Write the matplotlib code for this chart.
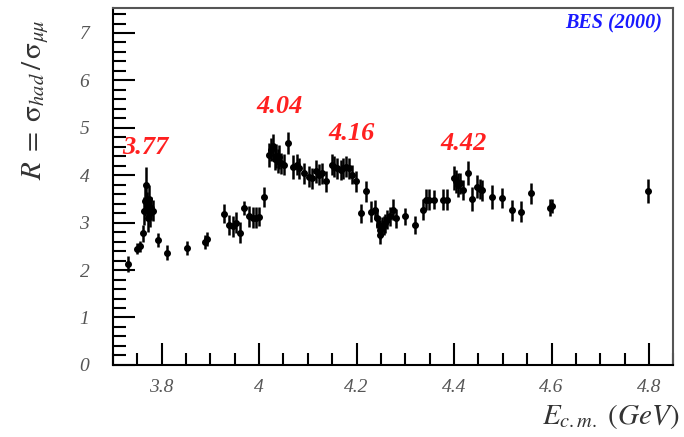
import matplotlib
matplotlib.use("Agg")
import matplotlib.pyplot as plt
from matplotlib.ticker import MultipleLocator

# ===========================
# Datos: R = sigma_had / sigma_mumu (BES 2000)
# ===========================
energia = [3.732, 3.750, 3.755, 3.761, 3.763, 3.765, 3.768, 3.770, 3.772, 3.774,
           3.776, 3.778, 3.782, 3.792, 3.811, 3.852, 3.890, 3.894, 3.929, 3.939,
           3.946, 3.952, 3.961, 3.970, 3.979, 3.987, 3.994, 3.999, 4.011, 4.020,
           4.025, 4.029, 4.032, 4.035, 4.038, 4.041, 4.045, 4.052, 4.060, 4.069,
           4.077, 4.082, 4.092, 4.103, 4.109, 4.116, 4.123, 4.130, 4.137, 4.149,
           4.154, 4.160, 4.167, 4.172, 4.178, 4.184, 4.191, 4.199, 4.208, 4.220,
           4.229, 4.237, 4.242, 4.246, 4.248, 4.249, 4.252, 4.256, 4.259, 4.262,
           4.269, 4.274, 4.280, 4.299, 4.319, 4.337, 4.342, 4.349, 4.358, 4.378,
           4.385, 4.399, 4.403, 4.407, 4.412, 4.419, 4.429, 4.436, 4.448, 4.453,
           4.458, 4.477, 4.499, 4.518, 4.538, 4.558, 4.596, 4.600, 4.797]
r_valor = [2.12, 2.45, 2.50, 2.78, 3.25, 3.45, 3.80, 3.35, 3.10, 3.50,
           3.20, 3.30, 3.25, 2.64, 2.37, 2.46, 2.60, 2.66, 3.19, 2.95,
           2.92, 3.00, 2.79, 3.31, 3.13, 3.10, 3.10, 3.12, 3.54, 4.43,
           4.54, 4.62, 4.35, 4.40, 4.30, 4.38, 4.25, 4.22, 4.68, 4.18,
           4.22, 4.15, 4.04, 3.97, 3.94, 4.08, 4.01, 4.04, 3.87, 4.22,
           4.18, 4.15, 4.11, 4.15, 4.18, 4.15, 4.01, 3.87, 3.20, 3.66,
           3.23, 3.27, 3.09, 2.95, 2.74, 2.85, 2.92, 2.95, 2.99, 3.06,
           3.13, 3.27, 3.09, 3.13, 2.95, 3.27, 3.48, 3.48, 3.48, 3.48,
           3.48, 3.94, 3.87, 3.80, 3.83, 3.69, 4.04, 3.50, 3.76, 3.71,
           3.68, 3.54, 3.52, 3.26, 3.23, 3.62, 3.31, 3.35, 3.67]
r_error = [0.17, 0.12, 0.12, 0.18, 0.30, 0.30, 0.38, 0.30, 0.30, 0.30,
           0.30, 0.25, 0.22, 0.15, 0.15, 0.15, 0.15, 0.15, 0.20, 0.22,
           0.22, 0.22, 0.22, 0.15, 0.22, 0.22, 0.22, 0.20, 0.22, 0.25,
           0.25, 0.25, 0.25, 0.25, 0.25, 0.25, 0.22, 0.22, 0.24, 0.25,
           0.22, 0.22, 0.22, 0.22, 0.22, 0.25, 0.22, 0.22, 0.22, 0.22,
           0.22, 0.22, 0.22, 0.22, 0.22, 0.22, 0.20, 0.22, 0.20, 0.22,
           0.22, 0.20, 0.20, 0.20, 0.20, 0.20, 0.20, 0.20, 0.20, 0.20,
           0.20, 0.22, 0.20, 0.18, 0.18, 0.22, 0.22, 0.22, 0.20, 0.22,
           0.22, 0.25, 0.25, 0.25, 0.22, 0.22, 0.25, 0.25, 0.25, 0.22,
           0.22, 0.25, 0.22, 0.22, 0.22, 0.22, 0.18, 0.15, 0.25]

# Resonancias marcadas
picos_texto = ["3.77", "4.04", "4.16", "4.42"]
picos_x = [3.766, 4.042, 4.189, 4.419]
picos_y = [4.58, 5.44, 4.89, 4.66]

plt.rcParams["mathtext.fontset"] = "stix"
serif = "Liberation Serif"

fig = plt.figure(figsize=(6.84, 4.37), dpi=100)
ax = fig.add_axes([0.165, 0.165, 0.8196, 0.817])

ax.errorbar(energia, r_valor, yerr=r_error, xerr=0.004, fmt="o", color="black",
            markersize=4, elinewidth=1.8, capsize=0)

for txt, px, py in zip(picos_texto, picos_x, picos_y):
    ax.text(px, py, txt, color="#ff2020", fontsize=19, fontweight="bold",
            style="italic", family=serif, ha="center", va="center")

ax.text(0.98, 0.955, "BES (2000)", transform=ax.transAxes, color="#1a1aff",
        fontsize=14.5, fontweight="bold", style="italic", family=serif,
        ha="right", va="center")

ax.set_xlim(3.7, 4.85)
ax.set_ylim(0, 7.53)
ax.xaxis.set_major_locator(MultipleLocator(0.2))
ax.xaxis.set_minor_locator(MultipleLocator(0.05))
ax.yaxis.set_major_locator(MultipleLocator(1))
ax.yaxis.set_minor_locator(MultipleLocator(0.2))
ax.set_xticks([3.8, 4.0, 4.2, 4.4, 4.6, 4.8])
ax.set_xticklabels(["3.8", "4", "4.2", "4.4", "4.6", "4.8"])

ax.tick_params(which="both", direction="in", top=False, right=False,
               width=1.5, labelsize=14, labelcolor="#555555")
ax.tick_params(which="major", length=16)
ax.tick_params(which="minor", length=9)
ax.tick_params(axis="x", which="major", pad=10)
ax.tick_params(axis="y", which="major", pad=17)
for lab in ax.get_xticklabels() + ax.get_yticklabels():
    lab.set_family(serif)
    lab.set_style("italic")
for s in ax.spines.values():
    s.set_linewidth(1.5)
ax.spines["right"].set_color("#555555")
ax.spines["top"].set_color("#555555")

fig.text(0.994, 0.048, r"$E_{c.m.}\ (GeV)$", fontsize=21, color="#333333",
         ha="right", va="center")
fig.text(0.052, 0.955, r"$R\;=\;\mathrm{\sigma}_{had}\,/\,\mathrm{\sigma}_{\mu\mu}$",
         fontsize=21, color="#333333", rotation=90, ha="center", va="top")

plt.savefig("out.png", dpi=100)
